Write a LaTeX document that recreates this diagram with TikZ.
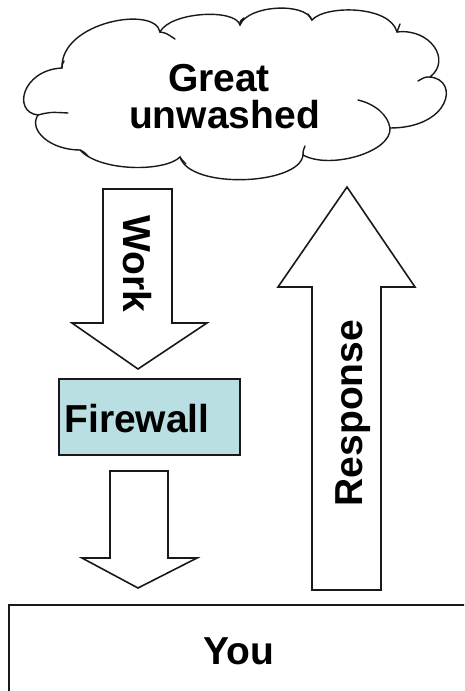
\documentclass[tikz,border=0pt]{standalone}
\usepackage{fontspec}
\setmainfont{Liberation Sans}
\begin{document}
\begin{tikzpicture}[x=1pt, y=-1pt, line join=miter,
  outline/.style={draw=black!90, line width=1.6pt},
  cloudline/.style={draw=black!90, line width=1.4pt, line cap=round},
  label/.style={font=\bfseries\fontsize{39}{39}\selectfont, inner sep=0pt, anchor=base},
]
\clip (0,0) rectangle (464,691);
\fill[white] (0,0) rectangle (464,691);

% cloud junction points
\coordinate (c1) at (62,68);
\coordinate (c2) at (160,32);
\coordinate (c3) at (240,25);
\coordinate (c4) at (312,20);
\coordinate (c5) at (397,32);
\coordinate (c6) at (430,77);
\coordinate (c7) at (390,128);
\coordinate (c8) at (303,155);
\coordinate (c9) at (180,157);
\coordinate (c10) at (80,150);
\coordinate (c11) at (38,115);

% cloud outline
\draw[cloudline, fill=white]
  (c1) .. controls (60,22) and (155,5) .. (c2)
       .. controls (170,12) and (235,8) .. (c3)
       .. controls (248,5) and (305,2) .. (c4)
       .. controls (325,5) and (390,5) .. (c5)
       .. controls (430,28) and (452,60) .. (c6)
       .. controls (460,80) and (450,128) .. (c7)
       .. controls (392,152) and (330,170) .. (c8)
       .. controls (300,185) and (190,190) .. (c9)
       .. controls (165,172) and (100,172) .. (c10)
       .. controls (50,150) and (28,130) .. (c11)
       .. controls (12,112) and (22,70) .. cycle;

% small inner folds of the cloud
\draw[cloudline] (c2) .. controls (166,33) .. (175,39);
\draw[cloudline] (c3) .. controls (240,21) .. (244,18);
\draw[cloudline] (c4) .. controls (310,17) .. (308,14);
\draw[cloudline] (c5) .. controls (398,28) .. (400,24);
\draw[cloudline] (c6) .. controls (425,77) .. (418,81);
\draw[cloudline] (358,100) .. controls (375,104) and (388,115) .. (c7);
\draw[cloudline] (c8) .. controls (303,151) .. (305,146);
\draw[cloudline] (c9) .. controls (182,160) .. (186,164);
\draw[cloudline] (c10) .. controls (84,152) .. (88,156);
\draw[cloudline] (c11) .. controls (50,112) .. (68,113);
\draw[cloudline] (c1) .. controls (62,65) .. (64,61);

\node[label] (great) at (219,91) {Great};
\node[label] (unwashed) at (224.5,128) {unwashed};

% Work arrow
\draw[outline, fill=white] (103,189) -- (172,189) -- (172,323) -- (207,323)
  -- (138,369) -- (72,323) -- (103,323) -- cycle;
\node[label, rotate=-90] (work) at (123,264) {Work};

% Firewall box
\draw[outline, fill={rgb,255:red,185;green,223;blue,227}] (59,379) rectangle (240,455);
\node[label] (firewall) at (137,432.5) {Firewall};

% arrow from the firewall down to you
\draw[outline, fill=white] (110,471) -- (168,471) -- (168,558) -- (197,558)
  -- (138,588) -- (82,558) -- (110,558) -- cycle;

% Response arrow
\draw[outline, fill=white] (312,590) -- (381,590) -- (381,287) -- (415,287)
  -- (347,187) -- (278,287) -- (312,287) -- cycle;
\node[label, rotate=90] (response) at (362,413) {Response};

% You box
\draw[outline, fill=white] (9,605) rectangle (480,710);
\node[label] (you) at (239,664) {You};
\end{tikzpicture}
\end{document}
